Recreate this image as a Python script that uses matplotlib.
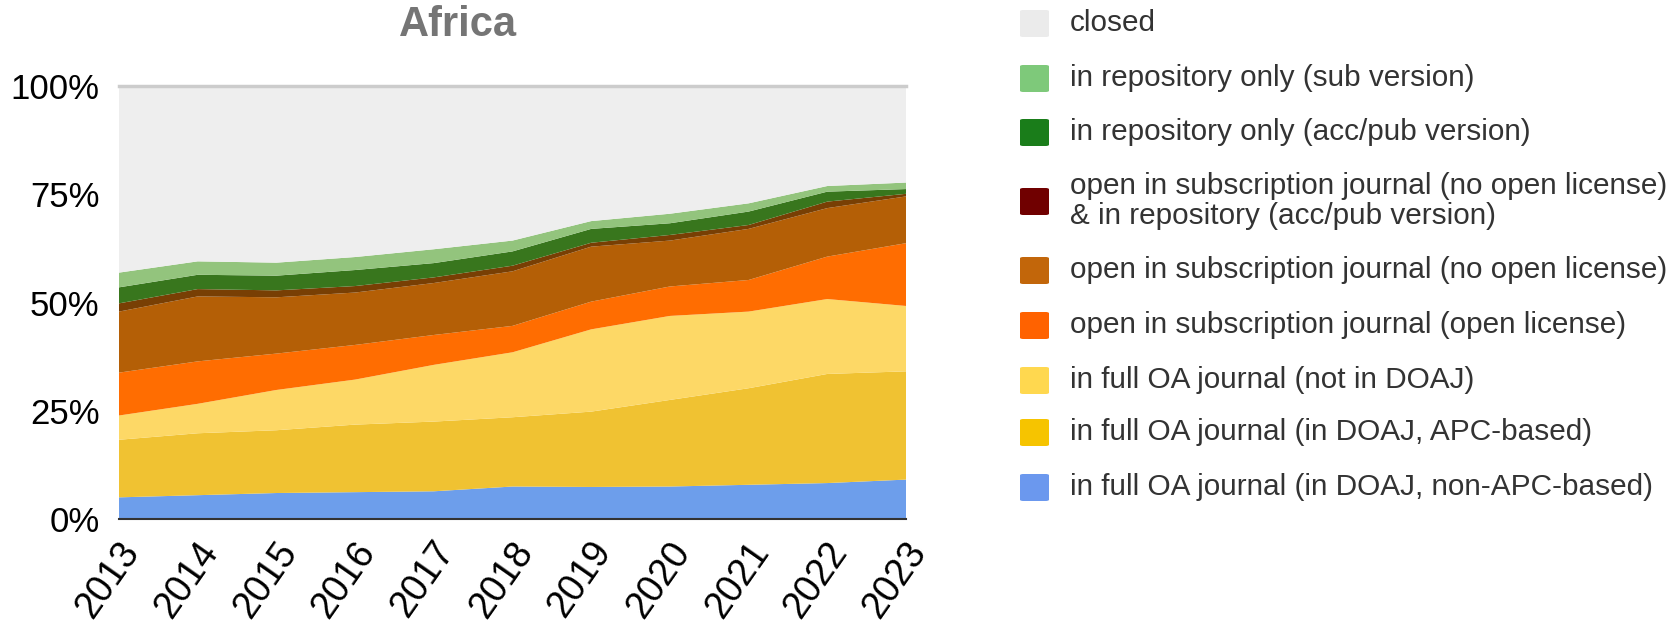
import matplotlib
matplotlib.use('Agg')
import matplotlib.pyplot as plt
from matplotlib.patches import FancyBboxPatch
from matplotlib.transforms import ScaledTranslation

plt.rcParams['font.family'] = ['Liberation Sans', 'DejaVu Sans']

years = [2013, 2014, 2015, 2016, 2017, 2018, 2019, 2020, 2021, 2022, 2023]

# shares in percent, bottom layer first
doaj_non_apc = [5.0, 5.5, 6.0, 6.2, 6.4, 7.5, 7.4, 7.5, 7.9, 8.3, 9.1]
doaj_apc = [13.3, 14.3, 14.5, 15.6, 16.1, 16.0, 17.4, 20.0, 22.3, 25.2, 25.0]
not_doaj = [5.6, 6.8, 9.3, 10.4, 13.1, 15.0, 19.0, 19.4, 17.7, 17.3, 15.1]
sub_open_lic = [9.9, 9.8, 8.4, 8.0, 6.9, 6.1, 6.4, 6.8, 7.3, 9.8, 14.5]
sub_no_lic = [14.1, 15.0, 13.0, 12.1, 12.0, 12.6, 12.7, 10.6, 11.8, 11.2, 10.8]
sub_no_lic_repo = [1.9, 1.7, 1.6, 1.5, 1.3, 1.3, 0.9, 1.3, 0.9, 1.5, 0.6]
repo_acc_pub = [3.7, 3.3, 3.4, 3.7, 3.3, 3.3, 3.2, 2.7, 3.1, 2.3, 1.1]
repo_sub = [3.4, 3.1, 3.0, 3.0, 3.2, 2.5, 1.8, 2.2, 1.9, 1.3, 1.5]
closed = [43.1, 40.5, 40.8, 39.5, 37.7, 35.7, 31.2, 29.5, 27.1, 23.1, 22.3]

series = [doaj_non_apc, doaj_apc, not_doaj, sub_open_lic, sub_no_lic,
          sub_no_lic_repo, repo_acc_pub, repo_sub, closed]
fill_colors = ['#6d9eeb', '#f0c232', '#fdd866', '#ff6d01', '#b45f06',
               '#783f04', '#38761d', '#93c47d', '#eeeeee']

# legend, top to bottom
labels = [
    'closed',
    'in repository only (sub version)',
    'in repository only (acc/pub version)',
    'open in subscription journal (no open license)\n& in repository (acc/pub version)',
    'open in subscription journal (no open license)',
    'open in subscription journal (open license)',
    'in full OA journal (not in DOAJ)',
    'in full OA journal (in DOAJ, APC-based)',
    'in full OA journal (in DOAJ, non-APC-based)',
]
legend_colors = ['#ebebeb', '#7ec97a', '#1a7d1a', '#700000', '#c2660a',
                 '#ff6200', '#ffd84f', '#f6c400', '#6b98ee']

W, H = 1680, 622
fig = plt.figure(figsize=(W / 100, H / 100), dpi=100)
ax = fig.add_axes([119 / W, (H - 519) / H, (906 - 119) / W, (519 - 86) / H])

ax.stackplot(years, *series, colors=fill_colors, linewidth=0)
ax.set_xlim(years[0], years[-1])
ax.set_ylim(0, 100)
ax.axhline(100, color='#cccccc', lw=2.5, clip_on=False, zorder=3)
ax.axhline(0, color='#333333', lw=1.5, clip_on=False, zorder=3)
for s in ax.spines.values():
    s.set_visible(False)

ax.set_yticks([0, 25, 50, 75, 100])
ax.set_yticklabels(['0%', '25%', '50%', '75%', '100%'])
ax.tick_params(axis='y', length=0, pad=14, labelsize=25)
ax.set_xticks(years)
ax.set_xticklabels([str(y) for y in years], rotation=55, ha='right',
                   va='center', rotation_mode='anchor')
ax.tick_params(axis='x', length=0, pad=19, labelsize=27)
shift = ScaledTranslation(0.13, 0, fig.dpi_scale_trans)
for lbl in ax.get_xticklabels():
    lbl.set_transform(lbl.get_transform() + shift)

fig.text(458 / W, 1 - 25 / H, 'Africa', fontsize=30, fontweight='bold',
         color='#757575', ha='center', va='center')

# legend rows (centre y in pixels)
row_y = [23, 78, 132, 201, 270, 325, 380, 432, 487]
for lab, col, yc in zip(labels, legend_colors, row_y):
    sw = FancyBboxPatch((1020 / W, 1 - (yc + 14) / H), 29 / W, 27 / H,
                        boxstyle='round,pad=0,rounding_size=0.002',
                        transform=fig.transFigure, facecolor=col,
                        edgecolor='none')
    fig.add_artist(sw)
    fig.text(1070 / W, 1 - yc / H, lab, fontsize=21.4, color='#333333',
             ha='left', va='center', linespacing=1.12)

fig.savefig('out.png', dpi=100)
